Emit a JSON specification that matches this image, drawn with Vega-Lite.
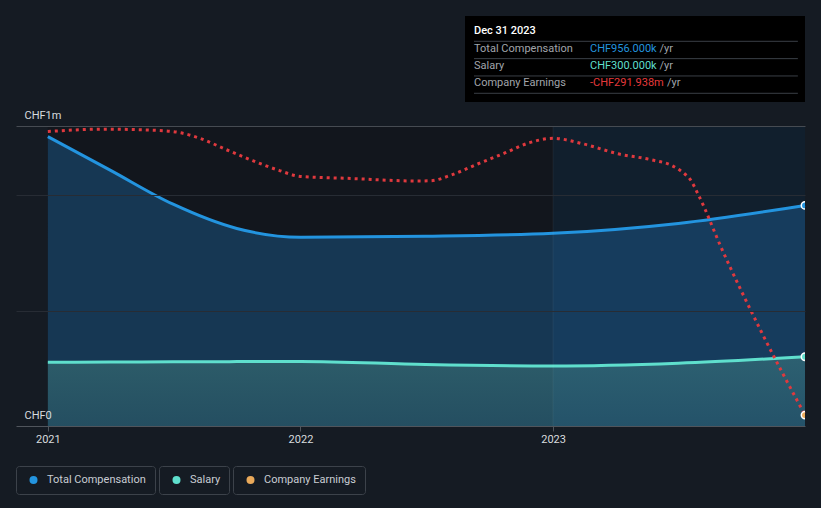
{
  "$schema": "https://vega.github.io/schema/vega-lite/v6.json",
  "width": 789,
  "height": 300,
  "autosize": {"type": "none"},
  "padding": {"left": 16, "top": 126, "right": 16, "bottom": 82},
  "background": "#151b23",
  "config": {
    "view": {"stroke": null},
    "font": "Roboto",
    "axis": {"labelFont": "Roboto", "labelFontSize": 11, "labelColor": "#d8dbdf", "title": null},
    "legend": {
      "orient": "bottom",
      "direction": "horizontal",
      "strokeColor": "#3c424a",
      "cornerRadius": 3,
      "padding": 8.5,
      "symbolOffset": 3.5,
      "labelOffset": 8,
      "labelFont": "Roboto",
      "labelFontSize": 11,
      "labelColor": "#c9cdd3",
      "symbolType": "circle",
      "symbolSize": 64,
      "symbolStrokeWidth": 0,
      "offset": 22,
      "layout": {"anchor": "start", "direction": "horizontal", "margin": 4}
    }
  },
  "datasets": {
    "periods": [
      {"start": "2021-01-01", "end": "2023-01-01", "period": "past"},
      {"start": "2023-01-01", "end": "2023-12-31", "period": "last year"}
    ],
    "comp": [
      {"date": "2021-01-01", "total": 1.254, "salary": 0.276},
      {"date": "2021-04-01", "total": 1.109, "salary": 0.277},
      {"date": "2021-07-01", "total": 0.961, "salary": 0.278},
      {"date": "2021-10-01", "total": 0.856, "salary": 0.279},
      {"date": "2022-01-01", "total": 0.818, "salary": 0.2795},
      {"date": "2022-07-01", "total": 0.822, "salary": 0.2665},
      {"date": "2023-01-01", "total": 0.835, "salary": 0.26},
      {"date": "2023-07-01", "total": 0.878, "salary": 0.272},
      {"date": "2023-12-31", "total": 0.956, "salary": 0.3}
    ],
    "ends": [
      {"series": "Total Compensation", "date": "2023-12-31", "value": 0.956},
      {"series": "Salary", "date": "2023-12-31", "value": 0.3}
    ],
    "earnings": [
      {"date": "2021-01-01", "earnings": 48.4},
      {"date": "2021-03-23", "earnings": 51.2},
      {"date": "2021-06-12", "earnings": 49.6},
      {"date": "2021-07-12", "earnings": 46.8},
      {"date": "2021-08-10", "earnings": 39.8},
      {"date": "2021-09-17", "earnings": 26.2},
      {"date": "2021-10-24", "earnings": 13.4},
      {"date": "2021-12-01", "earnings": 1.8},
      {"date": "2022-01-01", "earnings": -5.5},
      {"date": "2022-03-10", "earnings": -7.8},
      {"date": "2022-06-19", "earnings": -11.0},
      {"date": "2022-07-09", "earnings": -10.6},
      {"date": "2022-08-07", "earnings": -3.8},
      {"date": "2022-09-14", "earnings": 9.4},
      {"date": "2022-10-21", "earnings": 21.8},
      {"date": "2022-11-28", "earnings": 35.0},
      {"date": "2023-01-01", "earnings": 40.2},
      {"date": "2023-02-14", "earnings": 33.4},
      {"date": "2023-04-04", "earnings": 21.8},
      {"date": "2023-05-23", "earnings": 14.4},
      {"date": "2023-06-22", "earnings": 7.4},
      {"date": "2023-07-08", "earnings": -1.0},
      {"date": "2023-07-17", "earnings": -7.8},
      {"date": "2023-07-31", "earnings": -29.4},
      {"date": "2023-09-01", "earnings": -91.0},
      {"date": "2023-10-28", "earnings": -190.4},
      {"date": "2023-12-31", "earnings": -291.938}
    ],
    "earningsEnd": [
      {"series": "Company Earnings", "date": "2023-12-31", "earnings": -291.938}
    ],
    "tip": [
      {"row": 0, "label": "Dec 31 2023"},
      {"row": 1, "label": "Total Compensation", "value": "CHF956.000k", "unit": "/yr", "series": "Total Compensation"},
      {"row": 2, "label": "Salary", "value": "CHF300.000k", "unit": "/yr", "series": "Salary"},
      {"row": 3, "label": "Company Earnings", "value": "-CHF291.938m", "unit": "/yr", "series": "Company Earnings"}
    ]
  },
  "layer": [
    {
      "layer": [
        {
          "data": {"name": "periods"},
          "mark": {"type": "rect"},
          "encoding": {
            "x": {
              "field": "start", "type": "temporal", "title": null,
              "scale": {"type": "utc", "domain": [{"year": 2020, "month": 11, "date": 16, "utc": true}, {"year": 2023, "month": 12, "date": 31, "utc": true}]},
              "axis": {
                "values": [{"year": 2021, "month": 1, "date": 1, "utc": true}, {"year": 2022, "month": 1, "date": 1, "utc": true}, {"year": 2023, "month": 1, "date": 1, "utc": true}],
                "format": "%Y",
                "labelFlush": false,
                "grid": false,
                "tickSize": 5,
                "tickColor": "#50555c",
                "domainColor": "#50555c",
                "labelPadding": 2,
                "labelFontSize": 11
              }
            },
            "x2": {"field": "end"},
            "color": {
              "condition": {"test": "datum.period == 'last year'", "value": "#111f2d"},
              "value": "#12161d"
            }
          }
        },
        {
          "layer": [
            {
              "data": {"name": "comp"},
              "mark": {"type": "area", "interpolate": "monotone", "color": "#1f6aa5", "opacity": 0.4},
              "encoding": {
                "x": {"field": "date", "type": "temporal", "title": null},
                "y": {
                  "field": "total", "type": "quantitative", "title": null,
                  "scale": {"domain": [0, 1.3], "nice": false, "zero": true},
                  "axis": {
                    "values": [0, 0.5, 1, 1.3],
                    "labelExpr": "datum.value == 0 ? 'CHF0' : (datum.value == 1.3 ? 'CHF1m' : '')",
                    "domain": false,
                    "ticks": false,
                    "tickSize": 0,
                    "grid": true,
                    "gridColor": {"condition": {"test": "datum.value == 1.3", "value": "#464b52"}, "value": "#272c34"},
                    "gridOpacity": {"condition": {"test": "datum.value == 0", "value": 0}, "value": 1},
                    "labelAlign": "left",
                    "labelPadding": -8,
                    "labelBaseline": "alphabetic",
                    "labelOffset": -8,
                    "labelFontSize": 11,
                    "zindex": 1
                  }
                }
              }
            },
            {
              "data": {"name": "comp"},
              "mark": {
                "type": "area", "interpolate": "monotone",
                "color": {"gradient": "linear", "x1": 0, "y1": 0, "x2": 0, "y2": 1,
                  "stops": [{"offset": 0, "color": "rgba(110,200,170,0.26)"}, {"offset": 1, "color": "rgba(110,200,170,0.16)"}]}
              },
              "encoding": {
                "x": {"field": "date", "type": "temporal", "title": null},
                "y": {"field": "salary", "type": "quantitative", "title": null, "scale": {"domain": [0, 1.3], "nice": false}}
              }
            },
            {
              "data": {"name": "comp"},
              "mark": {"type": "line", "interpolate": "monotone", "color": "#2394df", "strokeWidth": 3},
              "encoding": {
                "x": {"field": "date", "type": "temporal", "title": null},
                "y": {"field": "total", "type": "quantitative", "title": null, "scale": {"domain": [0, 1.3], "nice": false}}
              }
            },
            {
              "data": {"name": "comp"},
              "mark": {"type": "line", "interpolate": "monotone", "color": "#5fdfcd", "strokeWidth": 3},
              "encoding": {
                "x": {"field": "date", "type": "temporal", "title": null},
                "y": {"field": "salary", "type": "quantitative", "title": null, "scale": {"domain": [0, 1.3], "nice": false}}
              }
            },
            {
              "data": {"name": "ends"},
              "transform": [{"filter": "datum.series == 'Total Compensation'"}],
              "mark": {"type": "point", "filled": true, "size": 55, "stroke": "#ffffff", "strokeWidth": 1.5, "opacity": 1, "clip": true},
              "encoding": {
                "x": {"field": "date", "type": "temporal", "title": null},
                "y": {"field": "value", "type": "quantitative", "title": null, "scale": {"domain": [0, 1.3], "nice": false}},
                "color": {"datum": "Total Compensation", "type": "nominal", "scale": {"range": ["#2394df"]}, "legend": {"title": null}}
              }
            },
            {
              "data": {"name": "ends"},
              "transform": [{"filter": "datum.series == 'Salary'"}],
              "mark": {"type": "point", "filled": true, "size": 55, "stroke": "#ffffff", "strokeWidth": 1.5, "opacity": 1, "clip": true},
              "encoding": {
                "x": {"field": "date", "type": "temporal", "title": null},
                "y": {"field": "value", "type": "quantitative", "title": null, "scale": {"domain": [0, 1.3], "nice": false}},
                "color": {"datum": "Salary", "type": "nominal", "scale": {"range": ["#5fdfcd"]}, "legend": {"title": null}}
              }
            }
          ],
          "resolve": {"scale": {"color": "independent"}}
        },
        {
          "data": {"name": "periods"},
          "transform": [{"filter": "datum.period == 'last year'"}],
          "mark": {"type": "rule", "color": "#ffffff", "opacity": 0.06, "strokeWidth": 1},
          "encoding": {
            "x": {"field": "start", "type": "temporal", "title": null}
          }
        },
        {
          "layer": [
            {
              "data": {"name": "earnings"},
              "mark": {"type": "line", "interpolate": "monotone", "color": "#e0393e", "strokeWidth": 3, "strokeDash": [3, 4]},
              "encoding": {
                "x": {"field": "date", "type": "temporal", "title": null},
                "y": {"field": "earnings", "type": "quantitative", "axis": null, "scale": {"domain": [-305, 55], "nice": false, "zero": false}}
              }
            },
            {
              "data": {"name": "earningsEnd"},
              "mark": {"type": "point", "filled": true, "size": 55, "stroke": "#ffffff", "strokeWidth": 1.5, "opacity": 1, "clip": true},
              "encoding": {
                "x": {"field": "date", "type": "temporal", "title": null},
                "y": {"field": "earnings", "type": "quantitative", "axis": null, "scale": {"domain": [-305, 55], "nice": false, "zero": false}},
                "color": {"datum": "Company Earnings", "type": "nominal", "scale": {"range": ["#e9a95a"]}, "legend": {"title": null}}
              }
            }
          ]
        }
      ],
      "resolve": {"scale": {"y": "independent", "color": "independent"}}
    },
    {
      "layer": [
        {
          "data": {"values": [{}]},
          "mark": {"type": "rect", "color": "#000000"},
          "encoding": {
            "x": {"datum": 0, "type": "quantitative", "axis": null, "scale": {"domain": [0, 1], "range": [449, 789]}},
            "x2": {"datum": 1},
            "y": {"datum": -0.883, "type": "quantitative", "axis": null, "scale": {"domain": [-0.883, 4.08], "range": [-110, -24]}},
            "y2": {"datum": 4.08}
          }
        },
        {
          "data": {"name": "tip"},
          "mark": {"type": "rule", "color": "#3a3f46", "strokeWidth": 1, "yOffset": 10},
          "encoding": {
            "x": {"datum": 0.0265, "type": "quantitative", "axis": null, "scale": {"domain": [0, 1], "range": [449, 789]}},
            "x2": {"datum": 0.979},
            "y": {"field": "row", "type": "quantitative", "axis": null, "scale": {"domain": [-0.883, 4.08], "range": [-110, -24]}}
          }
        },
        {
          "data": {"name": "tip"},
          "transform": [{"filter": "datum.row == 0"}],
          "mark": {"type": "text", "align": "left", "baseline": "middle", "font": "Roboto", "fontSize": 11, "fontWeight": 500, "color": "#ffffff"},
          "encoding": {
            "x": {"datum": 0.0265, "type": "quantitative", "axis": null, "scale": {"domain": [0, 1], "range": [449, 789]}},
            "y": {"field": "row", "type": "quantitative", "axis": null, "scale": {"domain": [-0.883, 4.08], "range": [-110, -24]}},
            "text": {"field": "label"}
          }
        },
        {
          "data": {"name": "tip"},
          "transform": [{"filter": "datum.row > 0"}],
          "mark": {"type": "text", "align": "left", "baseline": "middle", "font": "Roboto", "fontSize": 11, "color": "#a0a5ab"},
          "encoding": {
            "x": {"datum": 0.0265, "type": "quantitative", "axis": null, "scale": {"domain": [0, 1], "range": [449, 789]}},
            "y": {"field": "row", "type": "quantitative", "axis": null, "scale": {"domain": [-0.883, 4.08], "range": [-110, -24]}},
            "text": {"field": "label"}
          }
        },
        {
          "data": {"name": "tip"},
          "transform": [{"filter": "datum.row > 0 && datum.row < 3"}],
          "mark": {"type": "text", "align": "left", "baseline": "middle", "font": "Roboto", "fontSize": 11, "color": "#a0a5ab"},
          "encoding": {
            "x": {"datum": 0.5721, "type": "quantitative", "axis": null, "scale": {"domain": [0, 1], "range": [449, 789]}},
            "y": {"field": "row", "type": "quantitative", "axis": null, "scale": {"domain": [-0.883, 4.08], "range": [-110, -24]}},
            "text": {"field": "unit"}
          }
        },
        {
          "data": {"name": "tip"},
          "transform": [{"filter": "datum.row == 3"}],
          "mark": {"type": "text", "align": "left", "baseline": "middle", "font": "Roboto", "fontSize": 11, "color": "#a0a5ab"},
          "encoding": {
            "x": {"datum": 0.5941, "type": "quantitative", "axis": null, "scale": {"domain": [0, 1], "range": [449, 789]}},
            "y": {"field": "row", "type": "quantitative", "axis": null, "scale": {"domain": [-0.883, 4.08], "range": [-110, -24]}},
            "text": {"field": "unit"}
          }
        },
        {
          "data": {"name": "tip"},
          "transform": [{"filter": "datum.row > 0"}],
          "mark": {"type": "text", "align": "left", "baseline": "middle", "font": "Roboto", "fontSize": 11},
          "encoding": {
            "x": {"datum": 0.3676, "type": "quantitative", "axis": null, "scale": {"domain": [0, 1], "range": [449, 789]}},
            "y": {"field": "row", "type": "quantitative", "axis": null, "scale": {"domain": [-0.883, 4.08], "range": [-110, -24]}},
            "text": {"field": "value"},
            "color": {"field": "series", "type": "nominal", "legend": null,
              "scale": {"domain": ["Total Compensation", "Salary", "Company Earnings"], "range": ["#2394df", "#5fdfcd", "#e5393b"]}}
          }
        }
      ]
    }
  ],
  "resolve": {"scale": {"x": "independent", "y": "independent", "color": "independent"}}
}
